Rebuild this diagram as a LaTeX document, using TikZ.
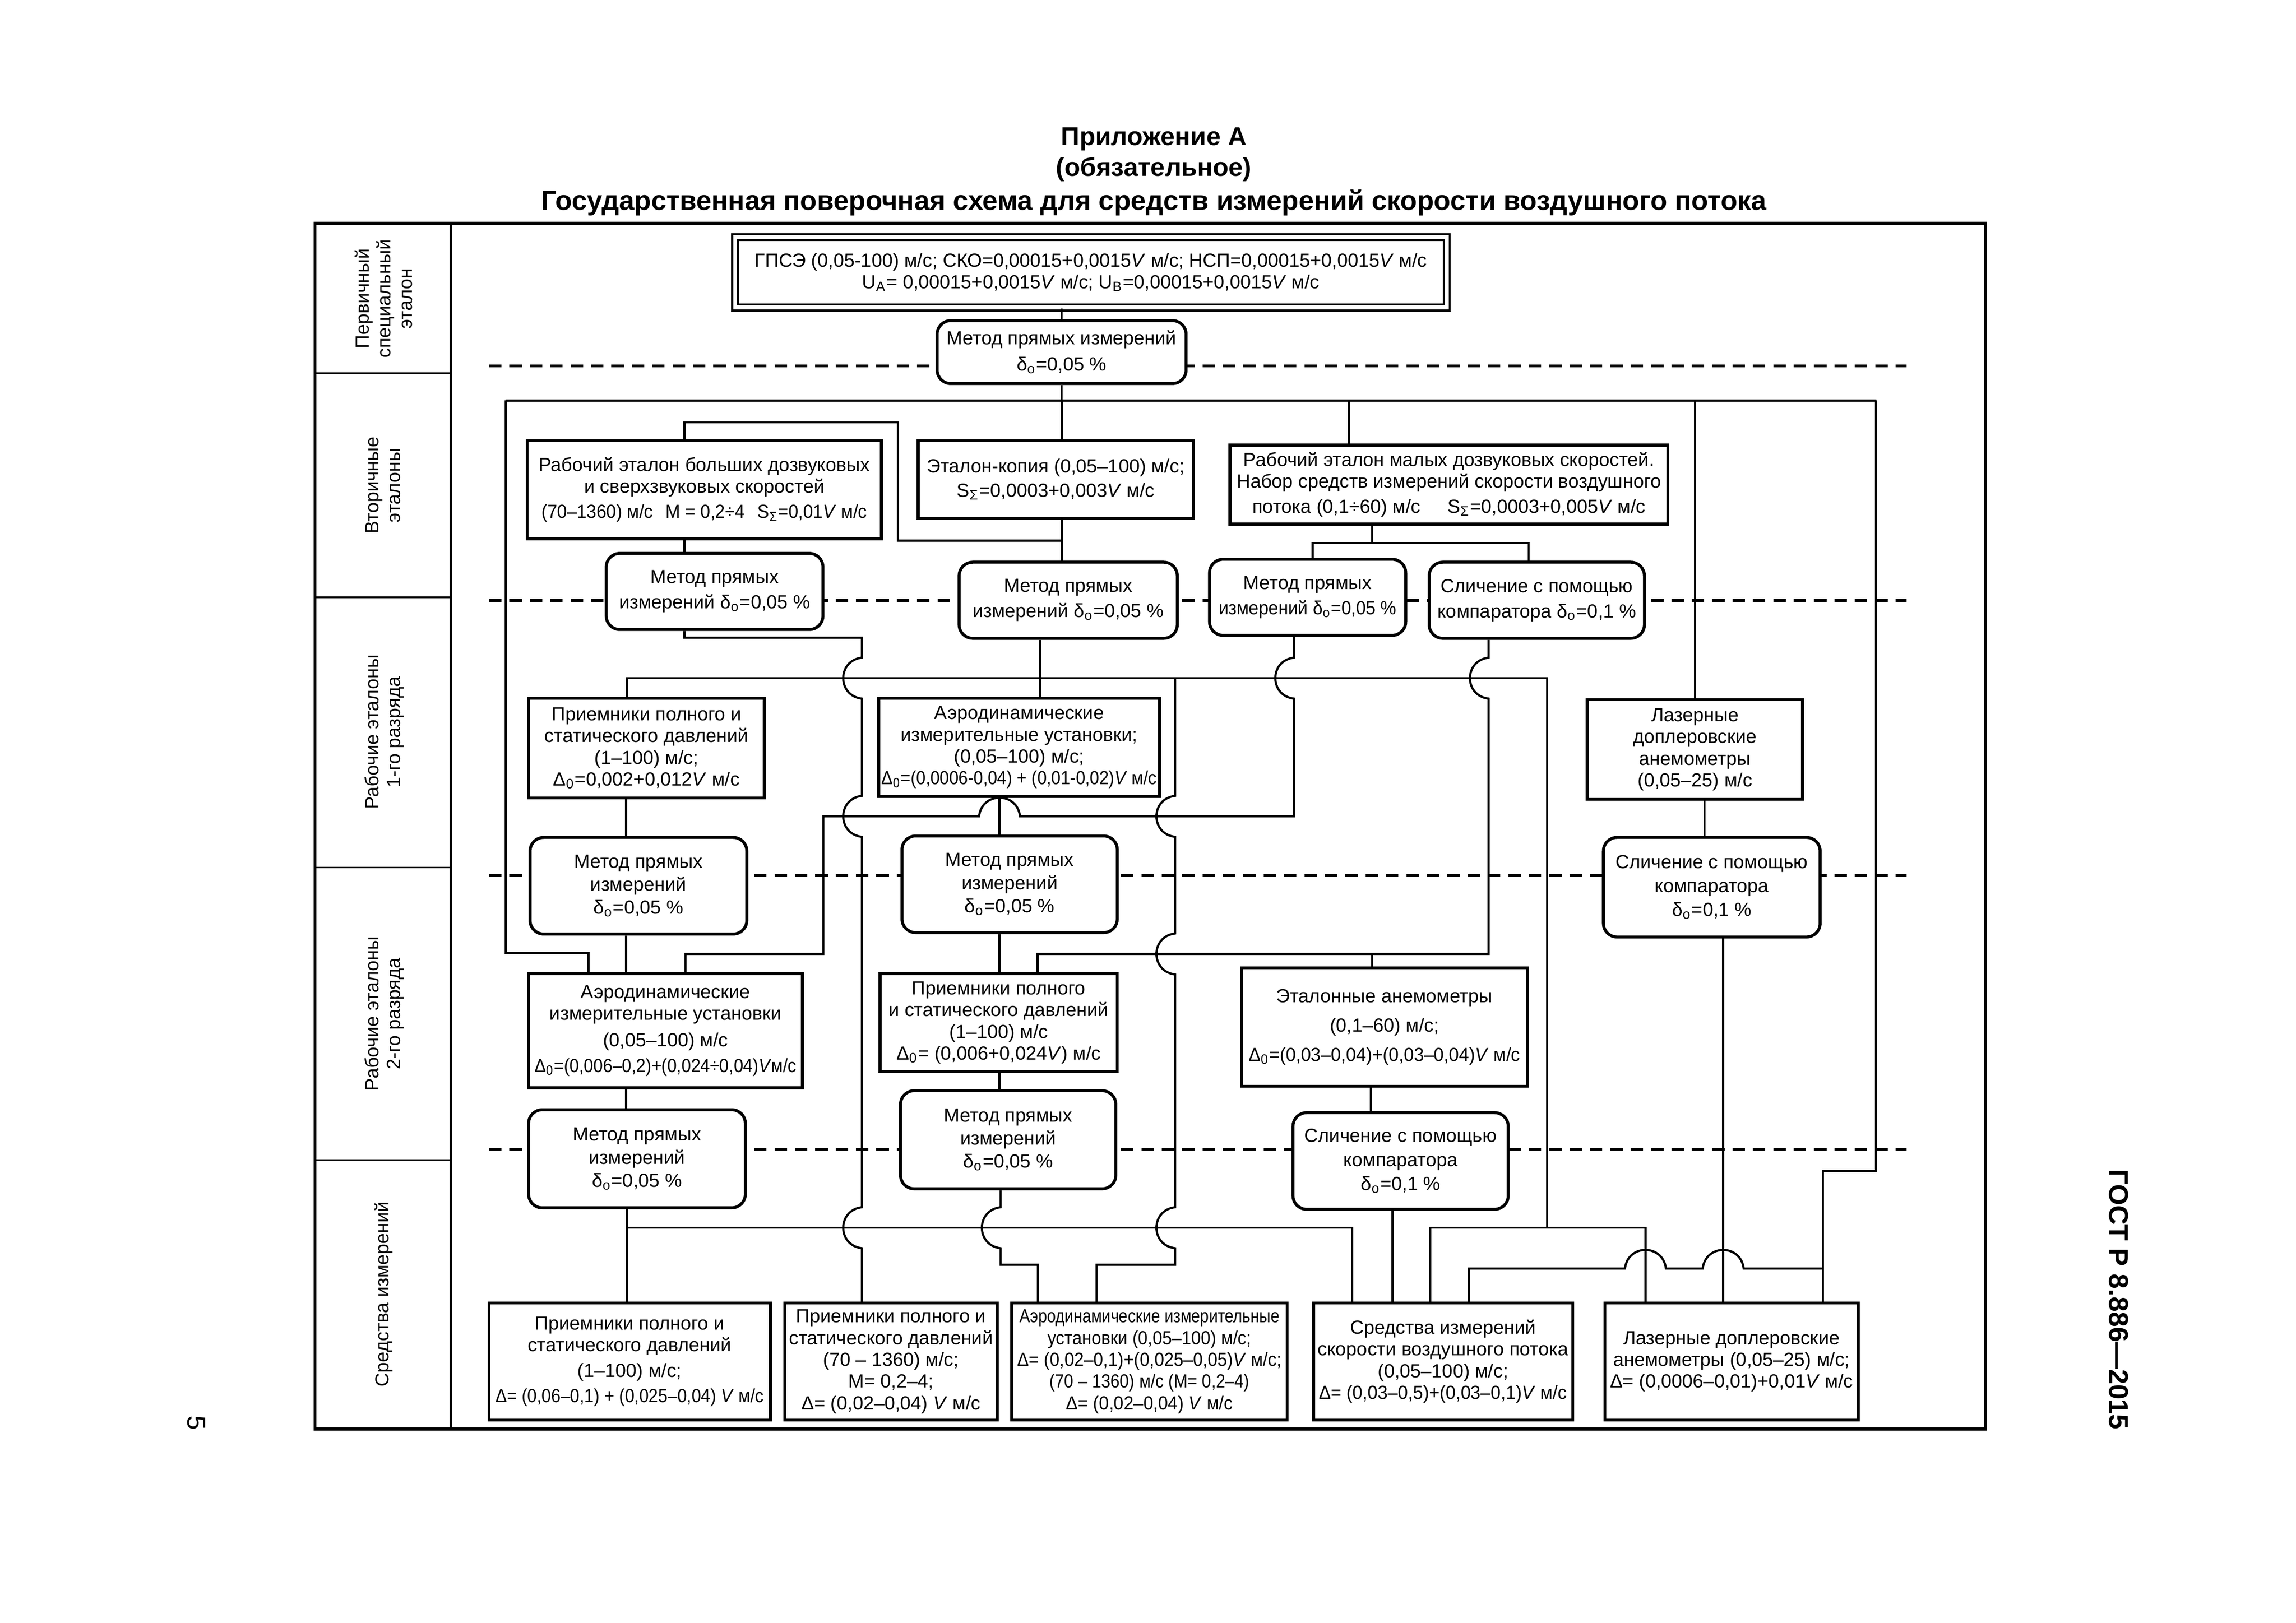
\documentclass[tikz,border=0pt]{standalone}
\usepackage{fontspec}
\setmainfont{Liberation Sans}
\usepackage{graphicx}
\newcommand\fs{\fontsize{7}{8}\selectfont}
\newcommand\sx[2]{\scalebox{#1}[1]{#2}}
\newcommand\bxn[7]{\node[#1,minimum width={(#5-#3)*0.018941cm},minimum height={(#6-#4)*0.018941cm}] (#2) at ({(#3+#5)/2},{(#4+#6)/2}) {#7};}
\begin{document}
\begin{tikzpicture}[x=0.018941cm,y=-0.018941cm,
  nbox/.style={draw,line width=1.1pt,fill=white,inner sep=1pt,align=center,font=\fs},
  nrbox/.style={nbox,rounded corners=5pt},
  gbox/.style={nbox,line width=0.8pt,double,double distance=1.4pt},
  conn/.style={line width=0.8pt},
  dashlvl/.style={line width=1.1pt,dash pattern=on 4.6pt off 2.9pt},
  vhop/.style 2 args={insert path={-- (#1,#2-14) .. controls (#1-17,#2-12) and (#1-17,#2+12) .. (#1,#2+14)}},
  hhopL/.style 2 args={insert path={-- (#1+14,#2) .. controls (#1+12,#2-17) and (#1-12,#2-17) .. (#1-14,#2)}},
  lbl/.style={rotate=90,align=center,font=\fs},
]
\useasboundingbox (0,0) rectangle (1568,1108.4);

% titles
\node[font=\bfseries\fontsize{9.5}{11}\selectfont] (t1) at (788,95) {Приложение А};
\node[font=\bfseries\fontsize{9.5}{11}\selectfont] (t2) at (788,115.5) {(обязательное)};
\node[font=\bfseries\fontsize{10.1}{12}\selectfont] (t3) at (788,138.5) {Государственная поверочная схема для средств измерений скорости воздушного потока};
\node[rotate=-90,font=\bfseries\fontsize{10}{12}\selectfont] (gost) at (1447,887.5) {ГОСТ Р 8.886—2015};
\node[rotate=-90,font=\fontsize{9.5}{11}\selectfont] (pg) at (134,972) {5};

% frame
\draw[line width=1.1pt] (215.2,152.5) rectangle (1356,976);
\draw[line width=1.1pt] (308,152.5) -- (308,976);
\foreach \yy in {255,408,592.5,792.3} \draw[line width=0.6pt] (215.2,\yy) -- (308,\yy);
\node[lbl] (r1) at (262,204) {Первичный\\специальный\\эталон};
\node[lbl] (r2) at (261.5,331.5) {Вторичные\\эталоны};
\node[lbl] (r3) at (262.5,500) {Рабочие эталоны\\1-го разряда};
\node[lbl] (r4) at (262.5,692.4) {Рабочие эталоны\\2-го разряда};
\node[lbl] (r5) at (262,884) {Средства измерений};

% level lines
\foreach \yy in {250,410,598,785} \draw[dashlvl] (334,\yy) -- (1302,\yy);

% nodes
\bxn{gbox}{gpse}{502}{162}{988}{210}{ГПСЭ (0,05-100) м/с; СКО=0,00015+0,0015\textit{V} м/с; НСП=0,00015+0,0015\textit{V} м/с\\U\textsubscript{A}= 0,00015+0,0015\textit{V} м/с; U\textsubscript{B}=0,00015+0,0015\textit{V} м/с}
\bxn{nrbox}{m0}{640}{219}{810}{262}{Метод прямых измерений\\[1.7pt]δ\textsubscript{о}=0,05 \%}
\bxn{nbox}{b1}{360}{301}{602}{368}{Рабочий эталон больших дозвуковых\\и сверхзвуковых скоростей\\[1.3pt]\sx{0.93}{(70–1360) м/с\hspace{5pt}M = 0,2÷4\hspace{5pt}S\textsubscript{Σ}=0,01\textit{V} м/с}}
\bxn{nbox}{b2}{627}{301}{815}{354}{Эталон-копия (0,05–100) м/с;\\[1pt]S\textsubscript{Σ}=0,0003+0,003\textit{V} м/с}
\bxn{nbox}{b3}{840}{304}{1139}{358}{Рабочий эталон малых дозвуковых скоростей.\\Набор средств измерений скорости воздушного\\[1.3pt]потока (0,1÷60) м/с\hspace{10pt}S\textsubscript{Σ}=0,0003+0,005\textit{V} м/с}
\bxn{nrbox}{m1}{414}{378}{562}{430}{Метод прямых\\[1.3pt]измерений δ\textsubscript{о}=0,05 \%}
\bxn{nrbox}{m2}{655}{384}{804}{436}{Метод прямых\\[1.3pt]измерений δ\textsubscript{о}=0,05 \%}
\bxn{nrbox}{m3}{826}{382}{960}{434}{Метод прямых\\[1.3pt]\sx{0.93}{измерений δ\textsubscript{о}=0,05 \%}}
\bxn{nrbox}{s1}{976}{384}{1123}{436}{Сличение с помощью\\[1.3pt]компаратора δ\textsubscript{о}=0,1 \%}
\bxn{nbox}{p1}{361}{477}{522}{545}{Приемники полного и\\статического давлений\\(1–100) м/с;\\Δ\textsubscript{0}=0,002+0,012\textit{V} м/с}
\bxn{nbox}{a1}{600}{477}{792}{544}{Аэродинамические\\измерительные установки;\\(0,05–100) м/с;\\\sx{0.89}{Δ\textsubscript{0}=(0,0006-0,04) + (0,01-0,02)\textit{V} м/с}}
\bxn{nbox}{l1}{1084}{478}{1231}{546}{Лазерные\\доплеровские\\анемометры\\(0,05–25) м/с}
\bxn{nrbox}{m4}{362}{572}{510}{638}{Метод прямых\\[0.5pt]измерений\\[0.5pt]δ\textsubscript{о}=0,05 \%}
\bxn{nrbox}{m5}{616}{571}{763}{637}{Метод прямых\\[0.5pt]измерений\\[0.5pt]δ\textsubscript{о}=0,05 \%}
\bxn{nrbox}{s2}{1095}{572}{1243}{640}{Сличение с помощью\\[0.8pt]компаратора\\[0.8pt]δ\textsubscript{о}=0,1 \%}
\bxn{nbox}{a2}{361}{665}{548}{743}{Аэродинамические\\измерительные установки\\[1.8pt](0,05–100) м/с\\[1.4pt]\sx{0.9}{Δ\textsubscript{0}=(0,006–0,2)+(0,024÷0,04)\textit{V}м/с}}
\bxn{nbox}{p2}{601}{665}{763}{732}{Приемники полного\\и статического давлений\\(1–100) м/с\\Δ\textsubscript{0}= (0,006+0,024\textit{V}) м/с}
\bxn{nbox}{e1}{848}{661}{1043}{742}{Эталонные анемометры\\[2.8pt](0,1–60) м/с;\\[2.8pt]\sx{0.95}{Δ\textsubscript{0}=(0,03–0,04)+(0,03–0,04)\textit{V} м/с}}
\bxn{nrbox}{m6}{361}{758}{509}{825}{Метод прямых\\[0.5pt]измерений\\[0.5pt]δ\textsubscript{о}=0,05 \%}
\bxn{nrbox}{m7}{615}{745}{762}{812}{Метод прямых\\[0.5pt]измерений\\[0.5pt]δ\textsubscript{о}=0,05 \%}
\bxn{nrbox}{s3}{883}{760}{1030}{826}{Сличение с помощью\\[0.8pt]компаратора\\[0.8pt]δ\textsubscript{о}=0,1 \%}
\bxn{nbox}{p3}{334}{890}{526}{970}{Приемники полного и\\статического давлений\\[1.4pt](1–100) м/с;\\[1.4pt]\sx{0.9}{Δ= (0,06–0,1) + (0,025–0,04) \textit{V} м/с}}
\bxn{nbox}{p4}{536}{890}{681}{970}{Приемники полного и\\статического давлений\\(70 – 1360) м/с;\\M= 0,2–4;\\Δ= (0,02–0,04) \textit{V} м/с}
\bxn{nbox}{a3}{691}{890}{879}{970}{\sx{0.83}{Аэродинамические измерительные}\\\sx{0.91}{установки (0,05–100) м/с;}\\\sx{0.92}{Δ= (0,02–0,1)+(0,025–0,05)\textit{V} м/с;}\\\sx{0.875}{(70 – 1360) м/с (M= 0,2–4)}\\\sx{0.93}{Δ= (0,02–0,04) \textit{V} м/с}}
\bxn{nbox}{sr}{897}{890}{1074}{970}{Средства измерений\\скорости воздушного потока\\(0,05–100) м/с;\\\sx{0.95}{Δ= (0,03–0,5)+(0,03–0,1)\textit{V} м/с}}
\bxn{nbox}{l2}{1096}{890}{1269}{970}{Лазерные доплеровские\\анемометры (0,05–25) м/с;\\Δ= (0,0006–0,01)+0,01\textit{V} м/с}

% connectors
\coordinate (busL) at (345.4,273.6);
\coordinate (busR) at (1281.2,273.6);
\draw[conn] (gpse.south -| m0.north) -- (m0.north);
\draw[conn] (m0.south) -- (m0.south |- busL);
\draw[conn] (busL) -- (busR);
\draw[conn] (busL) -- (345.4,650.8) -| (a2.north -| 401.9,0);
\draw[conn] (busL -| 725.3,0) -- (b2.north -| 725.3,0);
\draw[conn] (busL -| 921.3,0) -- (b3.north -| 921.3,0);
\draw[conn] (busL -| l1.north) -- (l1.north);
\draw[conn] (busR) -- (1281.2,799.8) -| (l2.north -| 1245,0);
\coordinate (rj) at (1245,866.5);
\draw[conn] (rj) [hhopL={1176.8}{866.5}] [hhopL={1123.7}{866.5}] -- (1003.2,866.5) -- (sr.north -| 1003.2,0);

\draw[conn] (b2.south -| 725.3,0) -- (m2.north -| 725.3,0);
\draw[conn] (b1.north -| 467.4,0) -- (467.4,288.5) -| (613.3,369.2) -- (725.3,369.2);
\draw[conn] (b1.south -| 467.4,0) -- (m1.north -| 467.4,0);
\draw[conn] (m1.south -| 467.4,0) |- (588.6,435.6) [vhop={588.6}{463.2}] [vhop={588.6}{557.6}] [vhop={588.6}{838.6}] -- (p4.north -| 588.6,0);

\draw[conn] (b3.south -| 937,0) -- (937,371);
\draw[conn] (m3.north -| 896.3,0) |- (1044,371) -- (s1.north -| 1044,0);

\coordinate (j1) at (710.3,463.2);
\draw[conn] (m2.south -| j1) -- (a1.north -| j1);
\draw[conn] (p1.north -| 428.3,0) |- (1056.5,463.2) -- (1056.5,838.6);
\draw[conn] (sr.north -| 976.6,0) -- (976.6,838.6) -- (1123.7,838.6) -- (l2.north -| 1123.7,0);
\draw[conn] (802.5,463.2) [vhop={802.5}{557.6}] [vhop={802.5}{651.6}] [vhop={802.5}{838.6}] -- (802.5,863.9) -| (a3.north -| 748.9,0);

\draw[conn] (m3.south -| 883.7,0) [vhop={883.7}{463.2}] -- (883.7,557.6) [hhopL={682.6}{557.6}] -- (562.3,557.6) -- (562.3,651.6) -| (a2.north -| 468.1,0);
\draw[conn] (s1.south -| 1016.6,0) [vhop={1016.6}{463.2}] -- (1016.6,651.6) -| (p2.north -| 708.6,0);
\draw[conn] (937,651.6) -- (e1.north -| 937,0);

\draw[conn] (p1.south -| 427.7,0) -- (m4.north -| 427.7,0);
\draw[conn] (m4.south -| 427.7,0) -- (a2.north -| 427.7,0);
\draw[conn] (a1.south -| 682.6,0) -- (m5.north -| 682.6,0);
\draw[conn] (m5.south -| 682.6,0) -- (p2.north -| 682.6,0);
\draw[conn] (l1.south -| 1164.1,0) -- (s2.north -| 1164.1,0);
\draw[conn] (s2.south -| 1176.8,0) -- (l2.north -| 1176.8,0);
\draw[conn] (a2.south -| 427.7,0) -- (m6.north -| 427.7,0);
\draw[conn] (p2.south -| 682.6,0) -- (m7.north -| 682.6,0);
\draw[conn] (e1.south -| 936.3,0) -- (s3.north -| 936.3,0);

\draw[conn] (m6.south -| 428.3,0) -- (p3.north -| 428.3,0);
\draw[conn] (428.3,838.6) -- (923.3,838.6) -- (sr.north -| 923.3,0);
\draw[conn] (m7.south -| 683.3,0) [vhop={683.3}{838.6}] -- (683.3,863.9) -| (a3.north -| 708.8,0);
\draw[conn] (s3.south -| 950.9,0) -- (sr.north -| 950.9,0);
\end{tikzpicture}
\end{document}
